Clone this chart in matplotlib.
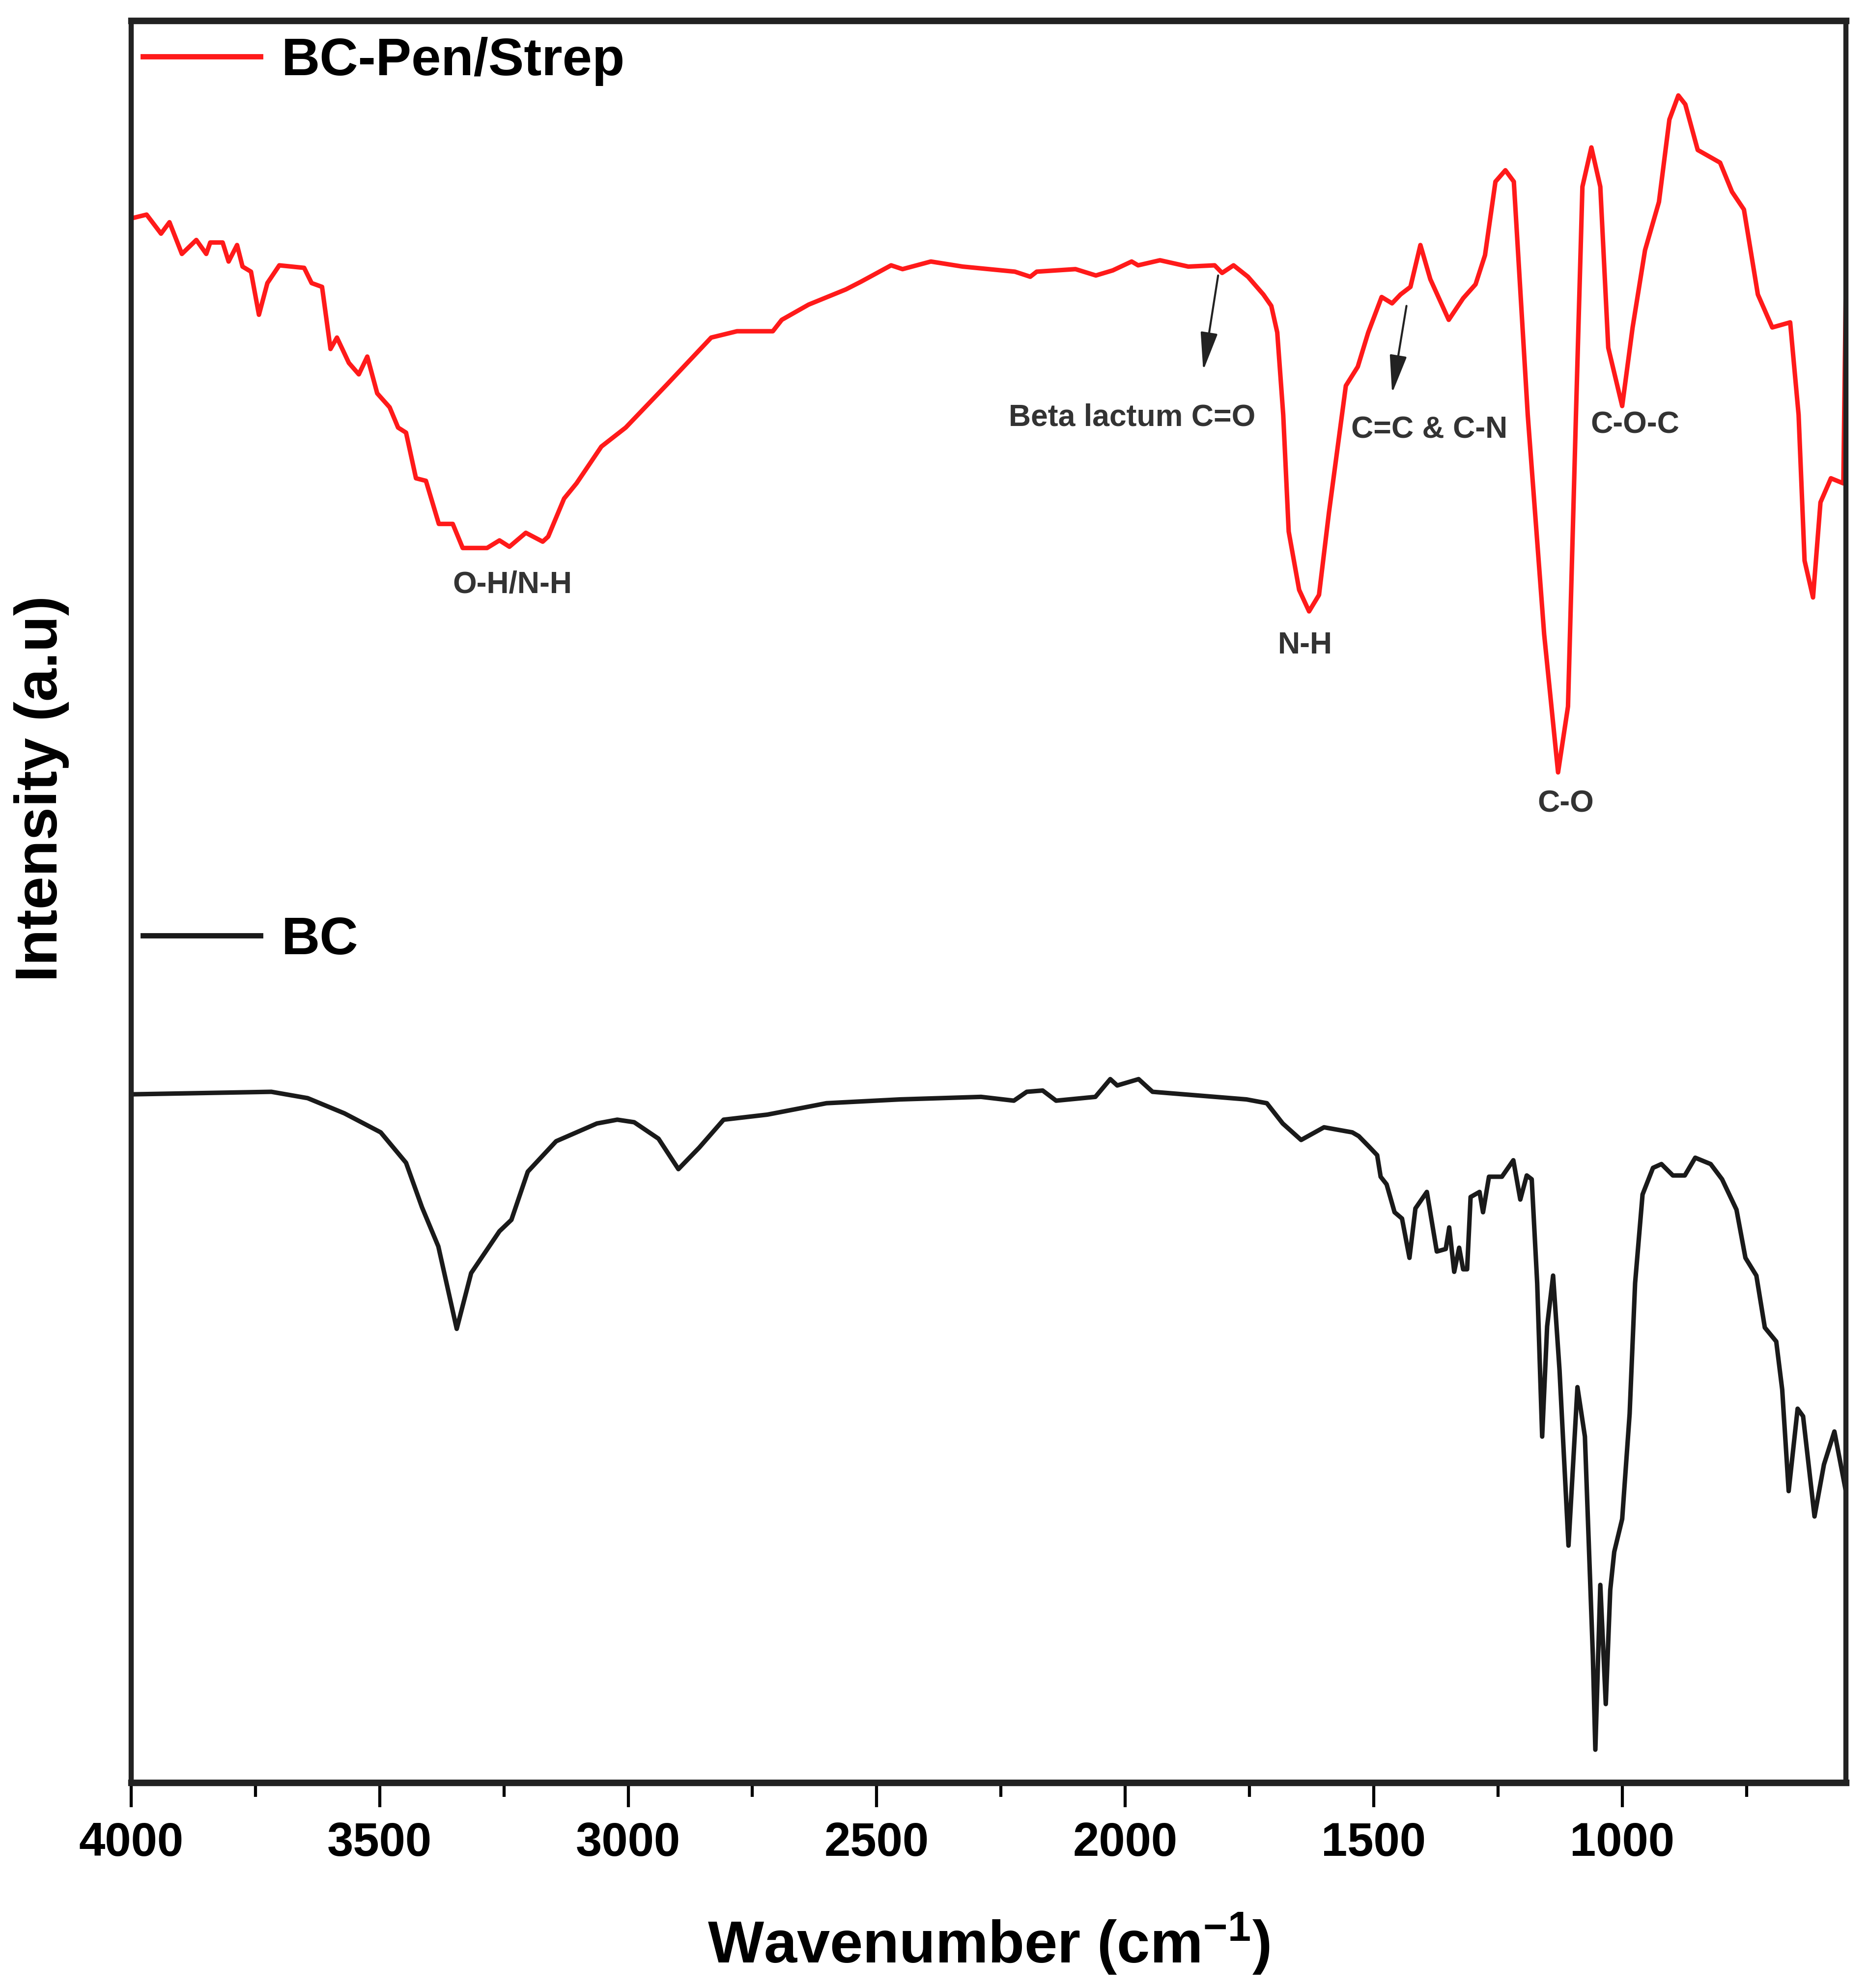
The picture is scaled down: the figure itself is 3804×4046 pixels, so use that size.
import matplotlib
matplotlib.use('Agg')
import numpy as np
import matplotlib.pyplot as plt
from matplotlib.ticker import MultipleLocator

# FTIR spectra (wavenumber in cm-1, intensity in a.u.)
pen_wn = [4000, 3969, 3940, 3923, 3898, 3869, 3849, 3841, 3816, 3804,
          3787, 3776, 3759, 3743, 3726, 3702, 3652, 3637, 3616, 3599,
          3586, 3562, 3542, 3525, 3505, 3480, 3463, 3447, 3427, 3407,
          3381, 3353, 3333, 3284, 3259, 3239, 3206, 3172, 3161, 3129,
          3104, 3054, 3005, 2922, 2833, 2781, 2709, 2691, 2637, 2562,
          2532, 2471, 2448, 2391, 2327, 2222, 2191, 2178, 2100, 2059,
          2025, 1987, 1974, 1930, 1873, 1820, 1805, 1782, 1753, 1722,
          1706, 1694, 1682, 1671, 1650, 1630, 1610, 1590, 1556, 1532,
          1511, 1484, 1463, 1446, 1426, 1406, 1386, 1349, 1320, 1295,
          1276, 1255, 1235, 1218, 1190, 1157, 1129, 1109, 1093, 1080,
          1062, 1044, 1028, 1000, 979, 954, 926, 905, 887, 873,
          848, 803, 779, 755, 727, 698, 662, 645, 633, 616,
          601, 580, 555, 550]
pen_int = [123.4, 123.7, 122.2, 123.1, 120.6, 121.7, 120.6, 121.5, 121.5, 120.0,
           121.3, 119.6, 119.2, 115.8, 118.3, 119.7, 119.5, 118.3, 118.0, 113.1,
           114.0, 112.0, 111.1, 112.5, 109.6, 108.5, 106.9, 106.5, 102.9, 102.7,
           99.3, 99.3, 97.4, 97.4, 98.0, 97.5, 98.6, 97.9, 98.3, 101.3,
           102.5, 105.4, 106.9, 110.3, 114.0, 114.5, 114.5, 115.4, 116.6, 117.8,
           118.4, 119.7, 119.4, 120.0, 119.6, 119.2, 118.8, 119.2, 119.4, 118.9,
           119.3, 120.0, 119.7, 120.1, 119.6, 119.7, 119.1, 119.7, 118.8, 117.4,
           116.5, 114.4, 107.9, 98.7, 94.1, 92.4, 93.7, 100.2, 110.2, 111.7,
           114.4, 117.2, 116.7, 117.4, 118.0, 121.3, 118.6, 115.4, 117.1, 118.2,
           120.5, 126.3, 127.2, 126.3, 107.9, 90.6, 79.7, 84.9, 107.9, 125.9,
           129.0, 125.9, 113.2, 108.6, 114.8, 120.9, 124.7, 131.2, 133.1, 132.4,
           128.8, 127.8, 125.5, 124.1, 117.4, 114.8, 115.2, 107.9, 96.4, 93.5,
           101.0, 102.9, 102.5, 117.8]

bc_wn = [4000, 3718, 3645, 3571, 3498, 3447, 3415, 3382, 3345, 3316,
         3259, 3235, 3202, 3145, 3063, 3022, 2988, 2939, 2899, 2857,
         2808, 2720, 2601, 2453, 2290, 2224, 2198, 2166, 2139, 2060,
         2030, 2016, 1973, 1945, 1756, 1715, 1683, 1646, 1600, 1543,
         1530, 1510, 1493, 1486, 1474, 1458, 1443, 1428, 1416, 1393,
         1373, 1355, 1348, 1338, 1328, 1320, 1312, 1305, 1287, 1280,
         1268, 1242, 1219, 1205, 1192, 1182, 1171, 1161, 1151, 1139,
         1126, 1108, 1090, 1075, 1059, 1054, 1044, 1033, 1024, 1016,
         1000, 985, 974, 959, 938, 921, 898, 874, 853, 822,
         799, 770, 752, 730, 713, 690, 678, 665, 647, 636,
         613, 594, 573, 550]
bc_int = [54.3, 54.5, 54.0, 52.8, 51.3, 48.9, 45.4, 42.3, 35.8, 40.2,
          43.5, 44.4, 48.2, 50.6, 52.0, 52.3, 52.1, 50.8, 48.4, 50.1,
          52.3, 52.7, 53.6, 53.9, 54.1, 53.8, 54.5, 54.6, 53.8, 54.1,
          55.5, 55.0, 55.5, 54.5, 53.9, 53.6, 52.0, 50.7, 51.7, 51.3,
          51.0, 50.2, 49.5, 47.8, 47.2, 45.0, 44.5, 41.4, 45.3, 46.6,
          41.9, 42.1, 43.8, 40.3, 42.2, 40.5, 40.5, 46.2, 46.6, 45.0,
          47.8, 47.8, 49.1, 46.0, 47.9, 47.6, 39.4, 27.3, 36.0, 40.0,
          32.5, 18.7, 31.2, 27.3, 10.0, 2.6, 15.6, 6.2, 15.2, 18.2,
          20.8, 29.1, 39.4, 46.4, 48.5, 48.8, 47.9, 47.9, 49.3, 48.8,
          47.6, 45.2, 41.4, 40.0, 35.9, 34.8, 31.0, 23.0, 29.5, 28.9,
          21.0, 25.1, 27.7, 23.0]

# peak labels and where they sit
band_labels = ['O-H/N-H', 'Beta lactum C=O', 'N-H', 'C=C & C-N', 'C-O', 'C-O-C']
band_wn = [3233, 1986, 1638, 1388, 1114, 974]
band_int = [94.5, 107.7, 89.7, 106.7, 77.2, 107.1]

# arrows: (from wn, from int) -> (to wn, to int)
arrows = [((1813, 118.9), (1843, 111.4)),
          ((1434, 116.5), (1463, 109.6))]

plt.rcParams.update({
    'font.family': 'Liberation Sans',
    'font.weight': 'bold',
    'mathtext.fontset': 'custom',
    'mathtext.rm': 'Liberation Sans:bold',
    'mathtext.it': 'Liberation Sans:bold',
    'mathtext.bf': 'Liberation Sans:bold',
    'mathtext.default': 'rm',
})

fig = plt.figure(figsize=(3804 / 300, 4046 / 300), dpi=300)
ax = fig.add_axes([0.0702, 0.1033, 0.9174, 0.8863])

l_pen, = ax.plot(pen_wn, pen_int, color='#ff1a1a', lw=2.2, label='BC-Pen/Strep')
l_bc, = ax.plot(bc_wn, bc_int, color='#1a1a1a', lw=2.2, label='BC')

ax.set_xlim(4000, 550)
ax.set_ylim(0, 139)

ax.xaxis.set_major_locator(MultipleLocator(500))
ax.xaxis.set_minor_locator(MultipleLocator(250))
ax.tick_params(axis='x', which='major', direction='out', length=12, width=1.5,
               labelsize=23, pad=7)
ax.tick_params(axis='x', which='minor', direction='out', length=7, width=1.5)
ax.tick_params(axis='y', left=False, labelleft=False)

for sp in ax.spines.values():
    sp.set_linewidth(2.5)
    sp.set_color('#222222')
ax.spines['top'].set_linewidth(3.2)
ax.spines['bottom'].set_linewidth(3.2)

ax.set_xlabel(r'Wavenumber (cm$^{-1}$)', fontsize=29, fontweight='bold', labelpad=22)
ax.set_ylabel('Intensity (a.u)', fontsize=29, fontweight='bold')
ax.yaxis.set_label_coords(-0.036, 0.564)

# two separate legend entries, Origin style
leg1 = ax.legend(handles=[l_pen], loc='center left', bbox_to_anchor=(0.007, 0.977),
                 frameon=False, fontsize=26, handlelength=2.2, handletextpad=0.4,
                 borderpad=0, borderaxespad=0)
for lh in leg1.get_lines():
    lh.set_linewidth(2.6)
ax.add_artist(leg1)
leg2 = ax.legend(handles=[l_bc], loc='center left', bbox_to_anchor=(0.007, 0.478),
                 frameon=False, fontsize=26, handlelength=2.2, handletextpad=0.4,
                 borderpad=0, borderaxespad=0)
for lh in leg2.get_lines():
    lh.set_linewidth(2.6)

for lab, w, y in zip(band_labels, band_wn, band_int):
    ax.text(w, y, lab, ha='center', va='center', fontsize=15,
            fontweight='bold', color='#333333')

for (x0, y0), (x1, y1) in arrows:
    ax.annotate('', xy=(x1, y1), xytext=(x0, y0),
                arrowprops=dict(arrowstyle='-|>,head_length=0.8,head_width=0.18',
                                mutation_scale=20, lw=1.0, color='#222222',
                                shrinkA=0, shrinkB=0))

fig.savefig('out.png', dpi=300)
